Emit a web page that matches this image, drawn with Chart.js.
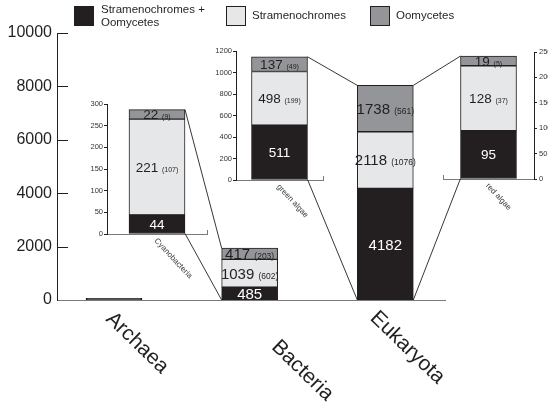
<!DOCTYPE html>
<html>
<head>
<meta charset="utf-8">
<script src="https://cdn.jsdelivr.net/npm/chart.js@4/dist/chart.umd.min.js"></script>
<style>
  html, body { margin: 0; padding: 0; background: #fff; overflow: hidden; }
  #wrap { position: relative; width: 548px; height: 402px; }
  #wrap canvas { position: absolute; left: 0; top: 0; }
</style>
</head>
<body>
<div id="wrap">
  <canvas id="main" width="548" height="402"></canvas>
  <canvas id="inset0" width="548" height="402"></canvas>
  <canvas id="inset1" width="548" height="402"></canvas>
  <canvas id="inset2" width="548" height="402"></canvas>
  <canvas id="links" width="548" height="402"></canvas>
</div>
<script>
// ---- Domain totals (main panel) ----
const domains = ['Archaea', 'Bacteria', 'Eukaryota'];
const bothCounts = [60, 485, 4182];
const stramenoCounts = [0, 1039, 2118];
const oomyCounts = [0, 417, 1738];
const stramenoExtra = [null, 602, 1076];
const oomyExtra = [null, 203, 561];
const domainTicks = [0, 2000, 4000, 6000, 8000, 10000];

// ---- Lineage breakdowns (small panels) ----
const lineages = ['Cyanobacteria', 'green algae', 'red algae'];
const lineageParent = [1, 2, 2];            // index into domains
const lineageBoth = [44, 511, 95];
const lineageStrameno = [221, 498, 128];
const lineageOomy = [22, 137, 19];
const lineageStramenoExtra = [107, 199, 37];
const lineageOomyExtra = [9, 49, 5];
const lineageAxisMax = [300, 1200, 250];
const lineageAxisStep = [50, 200, 50];

const seriesNames = [['Stramenochromes +', 'Oomycetes'], ['Stramenochromes'], ['Oomycetes']];

// ---- Styling / layout ----
const FONT = '"Liberation Sans", Arial, Helvetica, sans-serif';
const INK = '#231f20';
const COLORS = ['#231f20', '#e6e7e8', '#939598'];
const W = 548, H = 402;

const mainFrame = { left: 57, right: 445, top: 33, bottom: 300 };
const domainLabelOffset = [[-9, 20], [21, 48], [-16, 19]];
const domainLabelAngle = 44;

const insetFrames = [
  { left: 107, right: 207, top: 104, bottom: 234, axis: 'left' },
  { left: 236, right: 323, top: 51, bottom: 180, axis: 'left' },
  { left: 443, right: 534, top: 52, bottom: 179, axis: 'right' }
];
const legendBoxes = [74, 226, 370];

function valueOf(d) { return (d !== null && typeof d === 'object') ? d.y : d; }
const plainNumber = v => String(v);

// Number inside each stacked segment, with the bracketed count in smaller type
function drawStackLabels(chart, extras, numSize, extraSize) {
  const ctx = chart.ctx;
  ctx.save();
  chart.data.datasets.forEach((ds, k) => {
    const meta = chart.getDatasetMeta(k);
    meta.data.forEach((el, i) => {
      const v = valueOf(ds.data[i]);
      const h = Math.abs(el.base - el.y);
      if (!v || h < 5) return;
      const numText = String(v);
      const ex = extras[k] ? extras[k][i] : null;
      const exText = ex != null ? '(' + ex + ')' : null;
      ctx.font = numSize + 'px ' + FONT;
      const w1 = ctx.measureText(numText).width;
      let w2 = 0, gap = 0;
      if (exText) {
        ctx.font = extraSize + 'px ' + FONT;
        w2 = ctx.measureText(exText).width;
        gap = numSize * 0.28;
      }
      const total = w1 + gap + w2;
      const x0 = el.x - total / 2;
      const yb = (el.y + el.base) / 2 + numSize * 0.36;
      ctx.fillStyle = k === 0 ? '#ffffff' : INK;
      ctx.textAlign = 'left';
      ctx.textBaseline = 'alphabetic';
      ctx.font = numSize + 'px ' + FONT;
      ctx.fillText(numText, x0, yb);
      if (exText) {
        ctx.font = extraSize + 'px ' + FONT;
        ctx.fillText(exText, x0 + w1 + gap, yb);
      }
    });
  });
  ctx.restore();
}

const mainDecor = {
  id: 'mainDecor',
  afterDraw(chart) {
    const ctx = chart.ctx;
    const ys = chart.scales.y, xs = chart.scales.x;
    ctx.save();
    // inward tick marks on the value axis
    ctx.strokeStyle = INK;
    ctx.lineWidth = 1;
    domainTicks.forEach(v => {
      if (v === 0) return;
      const y = Math.round(ys.getPixelForValue(v)) + 0.5;
      ctx.beginPath();
      ctx.moveTo(chart.chartArea.left, y);
      ctx.lineTo(chart.chartArea.left + 11, y);
      ctx.stroke();
    });
    // slanted domain names
    ctx.fillStyle = INK;
    ctx.font = '21px ' + FONT;
    ctx.textAlign = 'left';
    ctx.textBaseline = 'alphabetic';
    domains.forEach((name, i) => {
      const px = xs.getPixelForValue(i) + domainLabelOffset[i][0];
      const py = ys.getPixelForValue(0) + domainLabelOffset[i][1];
      ctx.save();
      ctx.translate(px, py);
      ctx.rotate(domainLabelAngle * Math.PI / 180);
      ctx.fillText(name, 0, 0);
      ctx.restore();
    });
    ctx.restore();
    drawStackLabels(chart, [null, stramenoExtra, oomyExtra], 15, 8.5);
    // legend
    ctx.save();
    ctx.lineWidth = 1;
    seriesNames.forEach((lines, k) => {
      const bx = legendBoxes[k];
      ctx.fillStyle = COLORS[k];
      ctx.fillRect(bx, 6, 20, 20);
      ctx.strokeStyle = INK;
      ctx.strokeRect(bx + 0.5, 6.5, 19, 19);
      ctx.fillStyle = INK;
      ctx.font = '11.5px ' + FONT;
      ctx.textAlign = 'left';
      ctx.textBaseline = 'middle';
      if (lines.length === 2) {
        ctx.fillText(lines[0], bx + 27, 10);
        ctx.fillText(lines[1], bx + 27, 23);
      } else {
        ctx.fillText(lines[0], bx + 26, 16);
      }
    });
    ctx.restore();
  }
};

const mainChart = new Chart(document.getElementById('main'), {
  type: 'bar',
  data: {
    datasets: [bothCounts, stramenoCounts, oomyCounts].map((arr, k) => ({
      label: seriesNames[k].join(' '),
      data: arr.map((v, i) => ({ x: i, y: v })),
      backgroundColor: COLORS[k],
      borderColor: INK,
      borderWidth: 1,
      borderSkipped: false,
      barThickness: 56
    }))
  },
  options: {
    responsive: false,
    animation: false,
    events: [],
    layout: { padding: { left: 0, top: mainFrame.top, right: W - mainFrame.right, bottom: H - mainFrame.bottom } },
    plugins: { legend: { display: false }, tooltip: { enabled: false } },
    scales: {
      x: {
        type: 'linear', stacked: true, offset: false, min: -0.42, max: 2.44,
        grid: { display: false }, ticks: { display: false },
        border: { display: true, color: '#7a7a7a', width: 1 },
        afterFit: s => { s.height = 0; }
      },
      y: {
        stacked: true, min: 0, max: 10000,
        afterBuildTicks: s => { s.ticks = domainTicks.map(v => ({ value: v })); },
        ticks: { font: { family: FONT, size: 16 }, color: INK, padding: 5, callback: plainNumber },
        grid: { display: false, drawTicks: false },
        border: { display: true, color: INK, width: 1 },
        afterFit: s => { s.width = mainFrame.left; }
      }
    }
  },
  plugins: [mainDecor]
});

// ---- small panels ----
const insetCharts = lineages.map((name, j) => {
  const f = insetFrames[j];
  const yW = f.axis === 'left' ? 22 : 14;
  const pad = f.axis === 'left'
    ? { left: f.left - yW, right: W - f.right, top: f.top, bottom: H - f.bottom }
    : { left: f.left, right: W - f.right - yW, top: f.top, bottom: H - f.bottom };
  const decor = {
    id: 'insetDecor' + j,
    afterDraw(chart) {
      const ctx = chart.ctx;
      const a = chart.chartArea;
      ctx.save();
      // short upturned tick at the free end of the baseline
      ctx.strokeStyle = '#7a7a7a';
      ctx.lineWidth = 1;
      const ex = Math.round(f.axis === 'left' ? a.right : a.left) + 0.5;
      ctx.beginPath();
      ctx.moveTo(ex, a.bottom);
      ctx.lineTo(ex, a.bottom - 4);
      ctx.stroke();
      // slanted lineage name
      const el = chart.getDatasetMeta(0).data[0];
      ctx.fillStyle = '#3a3a3a';
      ctx.font = '8px ' + FONT;
      ctx.textAlign = 'left';
      ctx.textBaseline = 'alphabetic';
      ctx.translate(el.x - 3, a.bottom + 7);
      ctx.rotate(47 * Math.PI / 180);
      ctx.fillText(name, 0, 0);
      ctx.restore();
      drawStackLabels(chart, [null, [lineageStramenoExtra[j]], [lineageOomyExtra[j]]], 13.5, 7);
    }
  };
  return new Chart(document.getElementById('inset' + j), {
    type: 'bar',
    data: {
      labels: [name],
      datasets: [lineageBoth, lineageStrameno, lineageOomy].map((arr, k) => ({
        label: seriesNames[k].join(' '),
        data: [arr[j]],
        backgroundColor: COLORS[k],
        borderColor: INK,
        borderWidth: 1,
        borderSkipped: false,
        barThickness: 56
      }))
    },
    options: {
      responsive: false,
      animation: false,
      events: [],
      layout: { padding: pad },
      plugins: { legend: { display: false }, tooltip: { enabled: false } },
      scales: {
        x: {
          stacked: true, offset: true,
          grid: { display: false }, ticks: { display: false },
          border: { display: true, color: '#7a7a7a', width: 1 },
          afterFit: s => { s.height = 0; }
        },
        y: {
          position: f.axis, stacked: true, min: 0, max: lineageAxisMax[j],
          ticks: { stepSize: lineageAxisStep[j], font: { family: FONT, size: 7.5 }, color: '#333', padding: f.axis === 'left' ? 1 : 2, callback: plainNumber },
          grid: { display: true, drawOnChartArea: false, drawTicks: true, tickLength: 3, color: INK },
          border: { display: true, color: INK, width: 1 },
          afterFit: s => { s.width = yW; }
        }
      }
    },
    plugins: [decor]
  });
});

// ---- connector lines between each panel and its parent bar ----
function stackEdges(chart, index) {
  let top = Infinity, base = -Infinity, x = 0, w = 0;
  chart.data.datasets.forEach((ds, k) => {
    const el = chart.getDatasetMeta(k).data[index];
    if (!valueOf(ds.data[index])) return;
    top = Math.min(top, el.y);
    base = Math.max(base, el.base);
    x = el.x; w = el.width;
  });
  return { left: x - w / 2, right: x + w / 2, top, base, x };
}

(function drawLinks() {
  const ctx = document.getElementById('links').getContext('2d');
  ctx.strokeStyle = INK;
  ctx.lineWidth = 0.9;
  insetCharts.forEach((ch, j) => {
    const s = stackEdges(ch, 0);
    const p = stackEdges(mainChart, lineageParent[j]);
    const leftOfParent = s.x < p.x;
    const sx = leftOfParent ? s.right : s.left;
    const px = leftOfParent ? p.left : p.right;
    ctx.beginPath();
    ctx.moveTo(sx, s.top); ctx.lineTo(px, p.top);
    ctx.moveTo(sx, s.base); ctx.lineTo(px, p.base);
    ctx.stroke();
  });
})();
</script>
</body>
</html>
